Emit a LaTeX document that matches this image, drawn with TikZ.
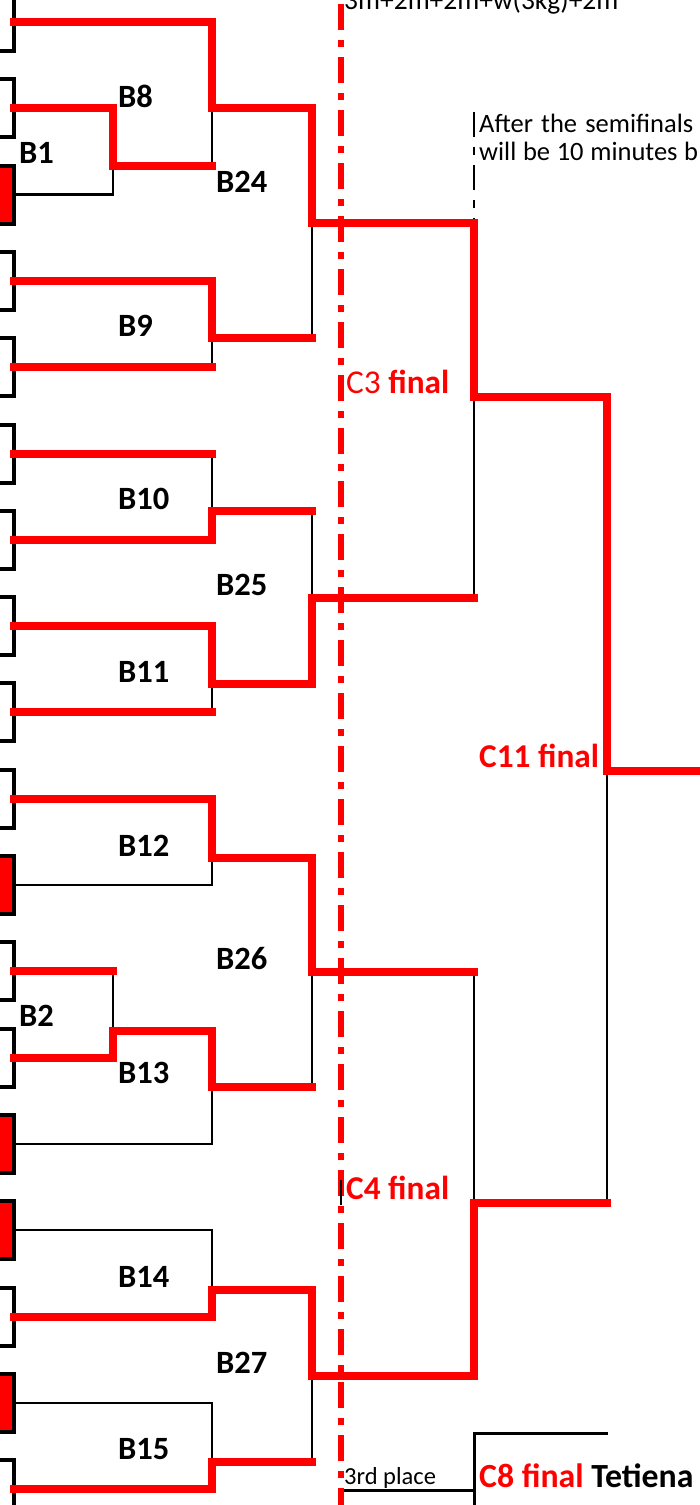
\documentclass[tikz,border=0pt]{standalone}
\usepackage{fontspec}
\setmainfont{Carlito}
\definecolor{fr}{RGB}{255,0,0}
\begin{document}
\begin{tikzpicture}[x=1pt,y=-1pt,
  win/.style={draw=fr, line width=8pt, line join=miter, line cap=rect},
  thin/.style={draw=black, line width=2.5pt, line join=miter},
  brk/.style={draw=black, line width=4pt, line join=miter},
  lbl/.style={anchor=base west, inner sep=0pt, font=\fontsize{32.5}{39}\selectfont\bfseries},
  clbl/.style={anchor=base west, inner sep=0pt, font=\fontsize{33.3}{39}\selectfont\bfseries},
  note/.style={anchor=base west, inner sep=0pt, font=\fontsize{26.5}{30}\selectfont}]
\useasboundingbox (0,0) rectangle (700,1505);
\clip (0,0) rectangle (700,1505);
% columns
\coordinate (L1) at (113,0);
\coordinate (L2) at (212,0);
\coordinate (L3) at (312,0);
\coordinate (L4) at (474,0);
\coordinate (L5) at (607,0);
% slots and brackets
\foreach \i in {0,...,17}{
  \pgfmathsetmacro{\yy}{22+86.3*\i}
  \coordinate (s\i) at (14,\yy);
}
\foreach \i in {2,10,13,14,16}{
  \pgfmathsetmacro{\yy}{22+86.3*\i}
  \fill[fr] (0,\yy-27) rectangle (12,\yy+27);
}
\foreach \i in {0,...,17}{
  \pgfmathsetmacro{\yy}{22+86.3*\i}
  \draw[brk] (0,\yy-29) -- (14,\yy-29) -- (14,\yy+29) -- (0,\yy+29);
}
% match outputs
\coordinate (mB1) at (113,166);
\coordinate (mB8) at (212,108.3);
\coordinate (mB24) at (312,223);
\coordinate (mB9) at (212,338);
\coordinate (mB10) at (212,511);
\coordinate (mB11) at (212,684);
\coordinate (mB25) at (312,598);
\coordinate (mC3) at (474,397);
\coordinate (mB12) at (212,858);
\coordinate (mB2) at (113,1031);
\coordinate (mB13) at (212,1087);
\coordinate (mB26) at (312,972);
\coordinate (mB14) at (212,1290);
\coordinate (mB15) at (212,1462);
\coordinate (mB27) at (312,1376);
\coordinate (mC4) at (474,1203);
\coordinate (mC11) at (607,771);
\coordinate (eC11) at (705,771);
% black (not taken) lines
\draw[thin] (s2) -- (s2 -| L1) -- (mB1);
\draw[thin] (mB8) -- (mB1 -| L2);
\draw[thin] (mB24) -- (mB9 -| L3);
\draw[thin] (mB9) -- (s4 -| L2);
\draw[thin] (s5 -| L2) -- (mB10);
\draw[thin] (mB11) -- (s8 -| L2);
\draw[thin] (mB10 -| L3) -- (mB25);
\draw[thin] (mC3) -- (mB25 -| L4);
\draw[thin] (s10) -- (s10 -| L2) -- (mB12);
\draw[thin] (s11 -| L1) -- (mB2);
\draw[thin] (s13) -- (s13 -| L2) -- (mB13);
\draw[thin] (mB26) -- (mB13 -| L3);
\draw[thin] (mB26 -| L4) -- (mC4);
\draw[thin] (mC11) -- (mC4 -| L5);
\draw[thin] (s14) -- (s14 -| L2) -- (mB14);
\draw[thin] (s16) -- (s16 -| L2) -- (mB15);
\draw[thin] (mB27) -- (mB15 -| L3);
% third place
\coordinate (t1) at (343,1490);
\coordinate (t2) at (474,1490);
\coordinate (t3) at (474,1433);
\coordinate (t4) at (608,1433);
\coordinate (t5) at (474,1510);
\draw[thin, line width=3pt] (t1) -- (t2);
\draw[thin, line width=3pt] (t5) -- (t3) -- (t4);
% dashed black line above C3
\coordinate (d1) at (474,112);
\draw[black, line width=2.5pt, dash pattern=on 25pt off 10pt on 8pt off 10pt] (d1) -- (mB24 -| L4);
% red (winner) lines
\draw[win] (s0) -- (s0 -| L2) -- (mB8) -- (mB8 -| L3) -- (mB24) -- (mB24 -| L4) -- (mC3) -- (mC3 -| L5) -- (mC11) -- (eC11);
\draw[win] (s1) -- (s1 -| L1) -- (mB1) -- (mB1 -| L2);
\draw[win] (s3) -- (s3 -| L2) -- (mB9) -- (mB9 -| L3);
\draw[win] (s4) -- (s4 -| L2);
\draw[win] (s5) -- (s5 -| L2);
\draw[win] (s6) -- (s6 -| L2) -- (mB10) -- (mB10 -| L3);
\draw[win] (s7) -- (s7 -| L2) -- (mB11) -- (mB11 -| L3) -- (mB25) -- (mB25 -| L4);
\draw[win] (s8) -- (s8 -| L2);
\draw[win] (s9) -- (s9 -| L2) -- (mB12) -- (mB12 -| L3) -- (mB26) -- (mB26 -| L4);
\draw[win] (s11) -- (s11 -| L1);
\draw[win] (s12) -- (s12 -| L1) -- (mB2) -- (mB2 -| L2) -- (mB13) -- (mB13 -| L3);
\draw[win] (s15) -- (s15 -| L2) -- (mB14) -- (mB14 -| L3) -- (mB27) -- (mB27 -| L4) -- (mC4) -- (mC4 -| L5);
\draw[win] (s17) -- (s17 -| L2) -- (mB15) -- (mB15 -| L3);
% red dash-dot divider
\coordinate (r1) at (341,4);
\coordinate (r2) at (341,1510);
\draw[fr, line width=6pt, dash pattern=on 26pt off 10pt on 7pt off 10pt] (r1) -- (r2);
\coordinate (k1) at (341,1180);
\coordinate (k2) at (341,1205);
\draw[black, line width=2.5pt] (k1) -- (k2);
% labels
\node[lbl] (lB1) at (19,163) {B1};
\node[lbl] (lB8) at (118,107) {B8};
\node[lbl] (lB24) at (216,192) {B24};
\node[lbl] (lB9) at (118,336) {B9};
\node[lbl] (lB10) at (118,509) {B10};
\node[lbl] (lB25) at (216,595) {B25};
\node[lbl] (lB11) at (118,682) {B11};
\node[lbl] (lB12) at (118,856) {B12};
\node[lbl] (lB26) at (216,969) {B26};
\node[lbl] (lB2) at (19,1026) {B2};
\node[lbl] (lB13) at (118,1083) {B13};
\node[lbl] (lB14) at (118,1287) {B14};
\node[lbl] (lB27) at (216,1373) {B27};
\node[lbl] (lB15) at (118,1459) {B15};
\node[clbl, text=fr] (lC3) at (346,393) {\mdseries C3 \bfseries final};
\node[clbl, text=fr] (lC4) at (346,1199) {C4 final};
\node[clbl, text=fr] (lC11) at (479,767) {C11 final};
\node[clbl, font=\fontsize{33.8}{39}\selectfont\bfseries] (lC8) at (479,1487) {\textcolor{fr}{C8 final} Tetiena};
\node[anchor=base west, inner sep=0pt, font=\fontsize{24.5}{28}\selectfont] (l3rd) at (344,1484) {3rd place};
\node[anchor=base west, inner sep=0pt, font=\fontsize{27.5}{30}\selectfont] (ltop) at (344,9) {3m+2m+2m+w(3kg)+2m};
\node[note] (la1) at (479,132) {\makebox[214pt][s]{After the semifinals}};
\node[note] (la2) at (479,160) {\makebox[219pt][s]{will be 10 minutes b}};
\end{tikzpicture}
\end{document}
